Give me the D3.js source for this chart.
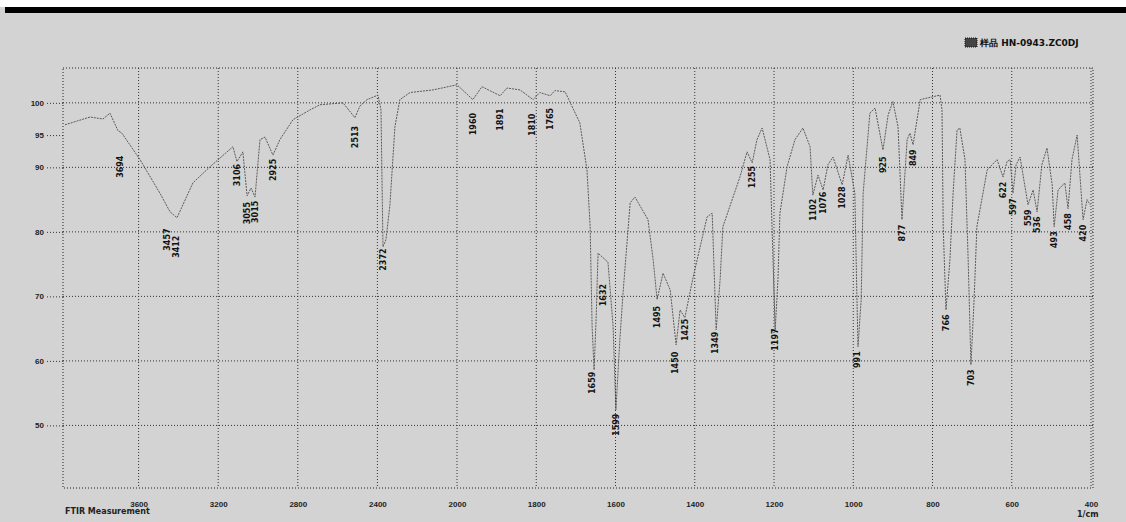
<!DOCTYPE html>
<html>
<head>
<meta charset="utf-8">
<script src="https://cdn.jsdelivr.net/npm/d3@7"></script>
<style>
	body { margin: 0; background: #ffffff; }
	svg { display: block; font-family: "DejaVu Sans", sans-serif; }
	.axis path { display: none; }
	.axis text { fill: #222; font-size: 8px; font-weight: bold; }
	.grid line { stroke: #333; stroke-width: 1; stroke-dasharray: 1,2; }
	.peak { fill: #111; font-size: 8px; font-weight: bold; }
</style>
</head>
<body>
<div id="chart"></div>
<script>
// spectrum (cm-1 / %T)
const wavenumbers = [3970, 3844, 3779, 3744, 3704, 3684, 3593, 3493, 3442, 3407, 3327, 3241, 3126, 3106, 3076,
	3055, 3035, 3015, 2990, 2965, 2925, 2890, 2824, 2739, 2689, 2573, 2513, 2488, 2452, 2397, 2382, 2372, 2357,
	2337, 2312, 2287, 2236, 2121, 2000, 1960, 1937, 1891, 1874, 1841, 1808, 1791, 1765, 1753, 1727, 1690, 1672,
	1664, 1659, 1654, 1649, 1644, 1619, 1606, 1599, 1589, 1581, 1563, 1551, 1518, 1505, 1495, 1480, 1462, 1447,
	1437, 1425, 1404, 1369, 1356, 1346, 1336, 1329, 1286, 1268, 1255, 1243, 1230, 1210, 1205, 1197, 1190, 1185,
	1167, 1147, 1127, 1109, 1102, 1089, 1076, 1064, 1051, 1028, 1013, 996, 991, 988, 980, 975, 958, 945, 925, 912,
	900, 887, 877, 869, 864, 857, 849, 831, 781, 776, 773, 766, 756, 748, 738, 731, 718, 710, 703, 695, 688, 662,
	637, 622, 612, 604, 597, 589, 579, 559, 546, 536, 524, 511, 498, 493, 483, 466, 458, 448, 435, 420, 410, 402];
const transmittance = [96.6, 97.8, 97.5, 98.4, 95.7, 95.3, 91.2, 86.0, 83.1, 82.2, 87.6, 90.1, 93.2, 90.9, 92.4,
	85.6, 86.8, 85.4, 94.3, 94.7, 91.9, 94.3, 97.4, 98.9, 99.7, 100.0, 97.7, 99.5, 100.5, 101.2, 98.9, 77.7, 78.8,
	84.2, 96.3, 100.5, 101.6, 102.0, 102.8, 100.5, 102.5, 101.1, 102.3, 102.0, 100.5, 101.6, 101.1, 101.9, 101.7,
	96.9, 89.6, 80.8, 65.3, 58.6, 66.4, 76.7, 75.3, 65.3, 52.4, 63.3, 70.5, 84.5, 85.4, 81.9, 75.7, 69.5, 73.6,
	71.0, 62.5, 67.9, 66.7, 73.0, 82.3, 82.9, 64.8, 72.6, 80.8, 88.5, 92.4, 90.7, 94.3, 96.1, 91.2, 80.8, 64.8,
	72.6, 82.9, 90.1, 94.3, 96.1, 93.2, 85.7, 88.8, 86.5, 90.4, 91.6, 87.3, 91.9, 86.0, 70.5, 62.2, 69.5, 86.0,
	98.4, 99.2, 92.7, 98.1, 100.2, 96.3, 81.9, 89.6, 94.3, 95.3, 93.5, 100.5, 101.2, 98.9, 80.8, 67.9, 75.7, 86.0,
	95.8, 96.1, 91.2, 75.7, 59.4, 69.5, 80.8, 89.6, 91.2, 88.5, 90.9, 91.2, 86.0, 90.4, 91.6, 84.2, 86.5, 83.1,
	90.4, 93.0, 87.3, 80.8, 86.5, 87.6, 83.6, 91.2, 95.0, 81.9, 85.0, 84.2];

// peak labels: wavenumber and where the label sits (%T)
const peakWn = [3694, 3457, 3412, 3106, 3055, 3015, 2925, 2513, 2372, 1960, 1891, 1810, 1765, 1659, 1632, 1599,
	1495, 1450, 1425, 1349, 1255, 1197, 1102, 1076, 1028, 991, 925, 877, 849, 766, 703, 622, 597, 559, 536, 493, 458, 420];
const peakLabelT = [90.1, 78.8, 77.7, 88.8, 82.9, 83.1, 89.6, 94.7, 75.7, 96.7, 97.4, 96.6, 97.5, 56.6, 70.2, 50.1,
	66.8, 59.7, 64.8, 62.8, 88.5, 63.3, 83.4, 84.5, 85.3, 60.2, 90.4, 79.8, 91.5, 65.9, 57.4, 86.5, 83.9, 82.2, 81.1, 78.8, 81.6, 79.8];

const xTicks = [3600, 3200, 2800, 2400, 2000, 1800, 1600, 1400, 1200, 1000, 800, 600, 400];
const yTicks = [100, 95, 90, 80, 70, 60, 50];
const yGrid = [100, 90, 80, 70, 60, 50];

const sampleName = "样品 HN-0943.ZC0DJ";
const footer = "FTIR Measurement";
const xUnit = "1/cm";

const W = 1126, H = 522;
const plot = { left: 63, right: 1093, top: 68, bottom: 488 };

const svg = d3.select("#chart").append("svg")
	.attr("width", W)
	.attr("height", H);

// background
svg.append("rect").attr("width", W).attr("height", H).attr("fill", "#d3d3d3");
svg.append("rect").attr("width", W).attr("height", 7).attr("fill", "#ffffff");
svg.append("rect").attr("x", 5).attr("y", 7).attr("width", W - 5).attr("height", 6).attr("fill", "#000");

// scales (expanded below 2000 cm-1)
const x = d3.scaleLinear().domain([3980, 2000, 400]).range([plot.left, 457, 1091]);
const y = d3.scaleLinear().domain([40.3, 105.4]).range([plot.bottom, plot.top]);

// grid
const grid = svg.append("g").attr("class", "grid");
grid.selectAll(".vg").data(xTicks).enter().append("line")
	.attr("x1", d => x(d)).attr("x2", d => x(d))
	.attr("y1", plot.top).attr("y2", plot.bottom);
grid.selectAll(".hg").data(yGrid).enter().append("line")
	.attr("x1", plot.left).attr("x2", plot.right)
	.attr("y1", d => y(d)).attr("y2", d => y(d));

// frame
grid.append("rect")
	.attr("x", plot.left).attr("y", plot.top)
	.attr("width", plot.right - plot.left).attr("height", plot.bottom - plot.top)
	.attr("fill", "none").attr("stroke", "#222").attr("stroke-dasharray", "1,2");

// axes
svg.append("g")
	.attr("class", "axis")
	.attr("transform", `translate(0, ${plot.bottom})`)
	.call(d3.axisBottom(x).tickValues(xTicks).tickFormat(d3.format("d")).tickSize(0).tickPadding(13));

svg.append("g")
	.attr("class", "axis grid")
	.attr("transform", `translate(${plot.left}, 0)`)
	.call(d3.axisLeft(y).tickValues(yTicks).tickFormat(d3.format("d")).tickSize(16).tickPadding(3));

// spectrum
const line = d3.line()
	.x((d, i) => x(wavenumbers[i]))
	.y(d => y(d));

svg.append("path")
	.datum(transmittance)
	.attr("d", line)
	.attr("fill", "none")
	.attr("stroke", "#5a5a5a")
	.attr("stroke-width", 1)
	.attr("stroke-dasharray", "2,1");

// peak labels (vertical text)
svg.selectAll(".peak").data(peakWn).enter().append("text")
	.attr("class", "peak")
	.attr("text-anchor", "middle")
	.attr("transform", (d, i) => `translate(${x(d) + 3}, ${y(peakLabelT[i])}) rotate(-90)`)
	.text(d => d);

// legend
svg.append("rect").attr("x", 965).attr("y", 38).attr("width", 12).attr("height", 9)
	.attr("fill", "#444").attr("stroke", "#111").attr("stroke-dasharray", "1,1");
svg.append("text").attr("x", 980).attr("y", 46)
	.attr("font-size", 9).attr("font-weight", "bold").attr("fill", "#111")
	.text(sampleName);

// footer texts
svg.append("text").attr("x", 65).attr("y", 514)
	.attr("font-size", 8).attr("font-weight", "bold").attr("fill", "#222")
	.text(footer);
svg.append("text").attr("x", 1077).attr("y", 517)
	.attr("font-size", 8).attr("font-weight", "bold").attr("fill", "#222")
	.text(xUnit);
</script>
</body>
</html>
